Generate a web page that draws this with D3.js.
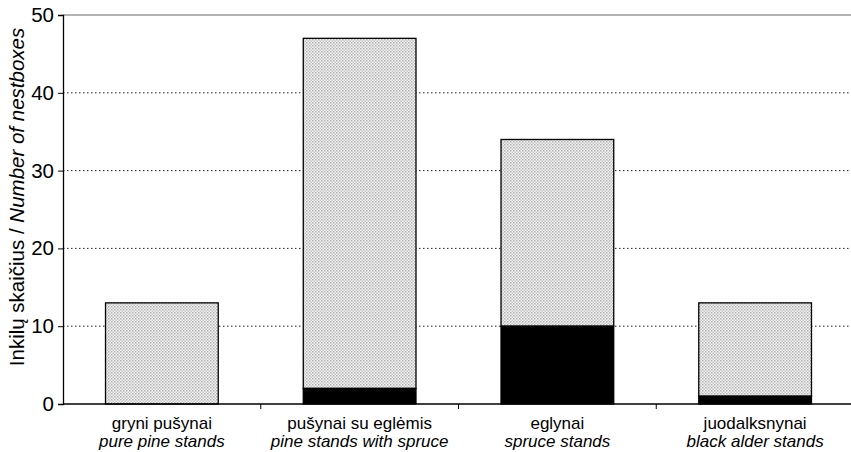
<!DOCTYPE html>
<html>
<head>
<meta charset="utf-8">
<script src="https://cdn.jsdelivr.net/npm/d3@7"></script>
<style>
  html, body { margin: 0; padding: 0; background: #fff; }
  svg { display: block; font-family: "Liberation Sans", Arial, sans-serif; }
</style>
</head>
<body>
<svg id="chart" width="851" height="452"></svg>
<script>
// categories (Lithuanian / English)
const catsLt = ["gryni pušynai", "pušynai su eglėmis", "eglynai", "juodalksnynai"];
const catsEn = ["pure pine stands", "pine stands with spruce", "spruce stands", "black alder stands"];
// totals and the black (lower) part
const totals = [13, 47, 34, 13];
const lower = [0, 2, 10, 1];
const yTicks = [0, 10, 20, 30, 40, 50];

const W = 851, H = 452;
const m = { left: 63, right: -3, top: 15, bottom: 48 };

const svg = d3.select("#chart");

// stipple pattern for the upper part
const defs = svg.append("defs");
const pat = defs.append("pattern")
  .attr("id", "stipple")
  .attr("width", 3).attr("height", 3)
  .attr("patternUnits", "userSpaceOnUse");
pat.append("rect").attr("width", 3).attr("height", 3).attr("fill", "#f4f4f4");
pat.append("rect").attr("x", 0).attr("y", 0).attr("width", 1.5).attr("height", 1.5).attr("fill", "#b0b0b0");
pat.append("rect").attr("x", 1.5).attr("y", 1.5).attr("width", 1.5).attr("height", 1.5).attr("fill", "#c4c4c4");

const x = d3.scaleBand()
  .domain(catsLt)
  .range([m.left, W - m.right])
  .paddingInner(0.43)
  .paddingOuter(0.215);
const y = d3.scaleLinear().domain([0, 50]).range([H - m.bottom, m.top]);

// dotted gridlines
svg.append("g")
  .selectAll("line")
  .data(yTicks.filter(d => d > 0 && d < 50))
  .join("line")
  .attr("x1", m.left).attr("x2", W)
  .attr("y1", d => y(d)).attr("y2", d => y(d))
  .attr("stroke", "#222")
  .attr("stroke-width", 1)
  .attr("stroke-dasharray", "1.5,2.5");

// top frame line
svg.append("line")
  .attr("x1", m.left).attr("x2", W)
  .attr("y1", y(50)).attr("y2", y(50))
  .attr("stroke", "#666").attr("stroke-width", 1);

// bars: upper stippled part, lower black part
const bars = svg.append("g");
bars.selectAll("rect.upper")
  .data(catsLt)
  .join("rect")
  .attr("class", "upper")
  .attr("x", d => x(d))
  .attr("width", x.bandwidth())
  .attr("y", (d, i) => y(totals[i]))
  .attr("height", (d, i) => y(lower[i]) - y(totals[i]))
  .attr("fill", "url(#stipple)")
  .attr("stroke", "#000")
  .attr("stroke-width", 1.3);
bars.selectAll("rect.lower")
  .data(catsLt.filter((d, i) => lower[i] > 0))
  .join("rect")
  .attr("class", "lower")
  .attr("x", d => x(d))
  .attr("width", x.bandwidth())
  .attr("y", d => y(lower[catsLt.indexOf(d)]))
  .attr("height", d => y(0) - y(lower[catsLt.indexOf(d)]))
  .attr("fill", "#000")
  .attr("stroke", "#000")
  .attr("stroke-width", 1.3);

// y axis
const yAxis = svg.append("g")
  .attr("transform", `translate(${m.left},0)`)
  .call(d3.axisLeft(y).tickValues(yTicks).tickSize(5).tickPadding(4));
yAxis.select(".domain").attr("stroke", "#000").attr("stroke-width", 1.3);
yAxis.selectAll(".tick line").attr("stroke", "#000");
yAxis.selectAll(".tick text")
  .attr("font-size", 20.5).attr("fill", "#000")
  .attr("font-family", "Liberation Sans, Arial, sans-serif");

// x axis baseline with boundary ticks
svg.append("line")
  .attr("x1", m.left).attr("x2", W)
  .attr("y1", y(0)).attr("y2", y(0))
  .attr("stroke", "#000").attr("stroke-width", 1.3);
const step = x.step();
const bounds = catsLt.slice(1).map(d => x(d) - step * x.paddingInner() / 2);
svg.append("g").selectAll("line")
  .data(bounds)
  .join("line")
  .attr("x1", d => d).attr("x2", d => d)
  .attr("y1", y(0)).attr("y2", y(0) + 5)
  .attr("stroke", "#000");

// category labels
const lab = svg.append("g").attr("font-size", 17).attr("fill", "#000").attr("text-anchor", "middle");
lab.selectAll("text.lt")
  .data(catsLt)
  .join("text")
  .attr("class", "lt")
  .attr("x", d => x(d) + x.bandwidth() / 2)
  .attr("y", 429)
  .text(d => d);
lab.selectAll("text.en")
  .data(catsEn)
  .join("text")
  .attr("class", "en")
  .attr("x", (d, i) => x(catsLt[i]) + x.bandwidth() / 2)
  .attr("y", 447)
  .attr("font-style", "italic")
  .text(d => d);

// y axis title
const yt = svg.append("text")
  .attr("transform", "translate(24,197) rotate(-90)")
  .attr("text-anchor", "middle")
  .attr("font-size", 20.5)
  .attr("fill", "#000");
yt.append("tspan").text("Inkilų skaičius / ");
yt.append("tspan").attr("font-style", "italic").text("Number of nestboxes");
</script>
</body>
</html>
